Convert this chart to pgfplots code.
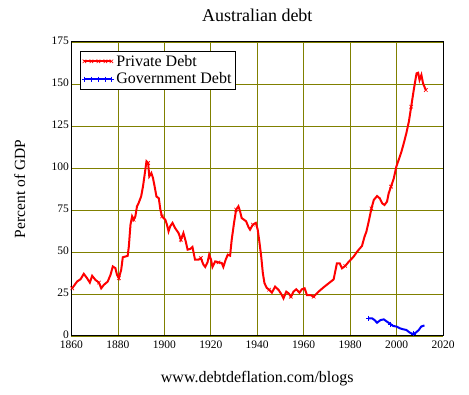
\documentclass[border=0pt]{standalone}
\usepackage{pgfplots}
\pgfplotsset{compat=1.18}
\usepackage{fontspec}
\setmainfont{Liberation Serif}
\definecolor{gridolive}{RGB}{128,128,0}
\begin{document}
\begin{tikzpicture}
\begin{axis}[
  name=ax,
  at={(0,0)}, anchor=south west,
  scale only axis,
  width=371.5pt, height=294pt,
  xmin=1860, xmax=2020, ymin=0, ymax=175,
  xtick={1860,1880,...,2020},
  ytick={0,25,...,175},
  /pgf/number format/1000 sep={},
  /pgf/number format/assume math mode=true,
  tick label style={font=\fontsize{11.5}{11.5}\selectfont},
  major tick length=0pt,
  xticklabel style={yshift=-4.5pt, inner ysep=0pt},
  yticklabel style={xshift=1pt, yshift=1.5pt, inner ysep=0pt},
  grid=major,
  major grid style={gridolive, line width=0.8pt},
  axis line style={black, line width=1pt},
  title={Australian debt},
  title style={font=\fontsize{18}{18}\selectfont, at={(axis description cs:0.5,1.0476)}, anchor=base},
  xlabel={www.debtdeflation.com/blogs},
  xlabel style={font=\fontsize{16}{16}\selectfont, at={(axis description cs:0.5,-0.1565)}, anchor=base},
  ylabel={Percent of GDP},
  ylabel style={font=\fontsize{15.5}{15.5}\selectfont, at={(axis description cs:-0.125,0.5)}, anchor=base, rotate=0},
  legend style={at={(axis description cs:0,1)}, anchor=north west, xshift=9pt, yshift=-9pt,
    draw=black, line width=0.8pt, fill=white, inner sep=1pt, row sep=0pt,
    font=\fontsize{16}{16}\selectfont, nodes={inner xsep=2.5pt, inner ysep=2.6pt}},
  legend cell align=left,
  legend image code/.code={%
    \draw[#1, mark repeat=1] plot coordinates {(0pt,0pt) (7pt,0pt) (14pt,0pt) (21pt,0pt) (27pt,0pt)};},
]
\addplot[red, line width=2pt, mark=x, mark size=2.5pt, mark repeat=8, mark options={solid, line width=0.6pt}] coordinates {
(1860.3,28.4) (1862.4,32.4) (1863.9,33.8) (1865.3,37) (1866.7,34.4) (1867.9,31.8) (1868.9,35.8)
(1870.3,33.4) (1871.8,31.8) (1872.8,28.4) (1873.9,30.4) (1875.6,32.4) (1876.8,36.4) (1877.8,41.4)
(1878.9,40.4) (1879.6,36.4) (1880.4,34.4) (1881.4,39.4) (1882.1,46.9) (1883.2,47.3) (1884.2,47.7)
(1884.7,53.3) (1885.4,66.2) (1886.1,71.2) (1886.8,69.2) (1887.5,71.2) (1888.2,77.1) (1888.9,79.1)
(1890,83.1) (1890.8,89.1) (1891.4,95) (1892.3,104) (1893,103) (1893.5,95) (1894.4,97) (1895.1,94)
(1895.8,89) (1896.6,83) (1897.6,82) (1898.3,75) (1899,71.2) (1900.4,69.2) (1901.1,66.3) (1901.8,62.3)
(1902.5,65.3) (1903.5,67.3) (1904.6,64.3) (1906.1,61.3) (1907.1,57.3) (1908.2,61.3) (1909.2,56.3)
(1910,51.4) (1911.1,51.8) (1912.1,53) (1913.2,45.4) (1914.7,45.4) (1915.7,46.4) (1916.8,42.5)
(1917.6,41.1) (1918.6,43.9) (1919.3,48.4) (1920.1,45.4) (1920.7,41.1) (1921.9,44.4) (1923.3,43.8)
(1924.7,43.5) (1925.4,41.1) (1926.4,45.4) (1927.3,48.4) (1928.3,47.8) (1929,57.3) (1930,67.3)
(1930.9,75.2) (1931.9,77.2) (1932.6,74.2) (1933.3,70.2) (1934.3,69.2) (1935.2,68.3) (1936.2,64.9)
(1936.9,63.3) (1938.1,66.3) (1939.4,67.3) (1940.2,63.3) (1940.9,56.3) (1941.7,47.4) (1942.4,37.5)
(1943.1,31.5) (1944.1,28.6) (1945.1,27.6) (1946.3,25.8) (1947.7,29.4) (1949.2,27.4) (1950.6,24.4)
(1951.3,22.4) (1952.5,26.4) (1953.5,25.4) (1954.5,23.4) (1955.6,26.4) (1956.8,27.8) (1958.2,25.8)
(1959.2,27.8) (1960.4,28.4) (1961.4,24.4) (1962.9,24.4) (1964.3,23.4) (1966.4,26.4) (1968.6,29)
(1970.7,31.3) (1972.9,33.7) (1974.3,43.3) (1975.5,43.3) (1976.5,40.3) (1977.9,41.7) (1979.4,44.2)
(1981.5,47.2) (1983,50.2) (1985.1,53.6) (1986.2,59.1) (1987,62.1) (1988,68.1) (1989.2,76)
(1990.2,81) (1991.6,83.3) (1992.8,81.9) (1993.8,79) (1994.8,78) (1995.9,80) (1996.6,84.9)
(1997.6,88.9) (1998.8,93.8) (1999.9,100.8) (2000.9,104.8) (2002.1,109.7) (2003.1,114.7)
(2004.2,120.6) (2005.3,127.6) (2006.3,136.5) (2007.4,146.4) (2008.6,156.3) (2009.3,156.7)
(2009.9,152.4) (2010.7,155.4) (2011.4,150.4) (2012,148.4) (2012.6,146.4)
};
\addlegendentry{Private Debt}
\addplot[blue, line width=2pt, mark=+, mark size=2.5pt, mark repeat=7, mark options={solid, line width=0.8pt}] coordinates {
(1988,10.5) (1989.5,10.5) (1990.5,9.5) (1991.6,7.9) (1993.1,9.5) (1994.5,9.9) (1995.9,8.5)
(1997.4,7.1) (1998.5,6) (2000,5.6) (2001.4,4.6) (2002.8,4) (2004.2,3.6) (2005.7,2)
(2007.1,1.2) (2008.3,2) (2009.6,3.6) (2010.6,5.6) (2012,6.3)
};
\addlegendentry{Government Debt}
\end{axis}
\pgfresetboundingbox
\path ([shift={(-71.5pt,-59pt)}]ax.south west) rectangle ([shift={(26pt,42pt)}]ax.north east);
\end{tikzpicture}
\end{document}
